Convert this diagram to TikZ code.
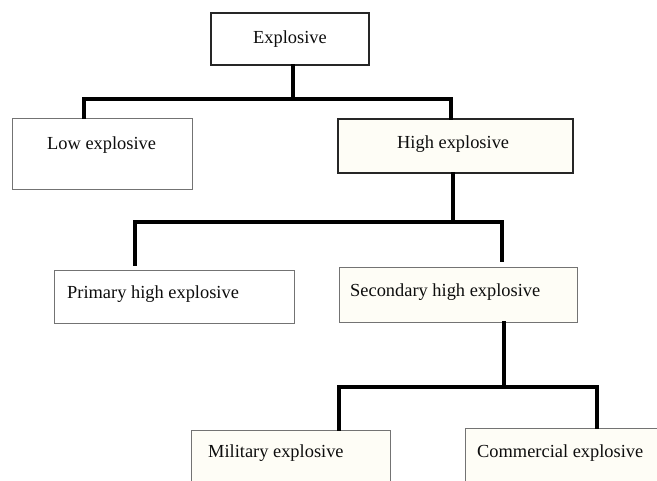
\documentclass[tikz,border=0pt]{standalone}
\usepackage{fontspec}
\setmainfont{Liberation Serif}
\begin{document}
\begin{tikzpicture}[x=1pt,y=-1pt,
  boxthin/.style={draw=black!55,line width=0.9pt,fill=white,rectangle,inner sep=0pt},
  boxdark/.style={draw=black!85,line width=1.5pt,fill=white,rectangle,inner sep=0pt},
  cream/.style={fill={rgb,255:red,254;green,253;blue,246}},
  lbl/.style={anchor=base west,inner sep=0pt,text=black!95,font=\fontsize{18.4}{22}\selectfont},
  conn/.style={line width=3.2pt,draw=black,line cap=rect,line join=miter}]
\clip (0,0) rectangle (657,481);
\fill[white] (0,0) rectangle (657,481);
% boxes
\node[boxdark,minimum width=158pt,minimum height=52pt] (exp) at (290,39) {};
\node[boxthin,minimum width=180pt,minimum height=71pt] (low) at (102,153.5) {};
\node[boxdark,cream,minimum width=235pt,minimum height=54pt] (high) at (455.5,146) {};
\node[boxthin,minimum width=240pt,minimum height=53pt] (prim) at (174,296.5) {};
\node[boxthin,cream,minimum width=238pt,minimum height=55pt] (sec) at (458,294.5) {};
\node[boxthin,cream,minimum width=199pt,minimum height=100pt] (mil) at (290.5,480) {};
\node[boxthin,cream,minimum width=220pt,minimum height=104pt] (com) at (575,480) {};
% labels
\node[lbl] (expt) at (253,44) {Explosive};
\node[lbl] (lowt) at (47,150) {Low explosive};
\node[lbl] (hight) at (397,149) {High explosive};
\node[lbl] (primt) at (67,299) {Primary high explosive};
\node[lbl] (sect) at (350,297) {Secondary high explosive};
\node[lbl] (milt) at (208,458) {Military explosive};
\node[lbl] (comt) at (477,458) {Commercial explosive};
% level 1
\coordinate (j1l) at (84,99);
\coordinate (j1r) at (451,99);
\coordinate (j1m) at (293,99);
\draw[conn] (j1m |- exp.south) -- (j1m);
\draw[conn] (j1l |- low.north) -- (j1l) -- (j1r) -- (j1r |- high.north);
% level 2
\coordinate (j2l) at (135,222);
\coordinate (j2r) at (502,222);
\coordinate (j2m) at (453,222);
\draw[conn] (j2m |- high.south) -- (j2m);
\draw[conn] ([yshift=5pt]j2l |- prim.north) -- (j2l) -- (j2r) -- ([yshift=6pt]j2r |- sec.north);
% level 3
\coordinate (j3l) at (339,387);
\coordinate (j3r) at (597,387);
\coordinate (j3m) at (504,387);
\draw[conn] (j3m |- sec.south) -- (j3m);
\draw[conn] (j3l |- mil.north) -- (j3l) -- (j3r) -- (j3r |- com.north);
\end{tikzpicture}
\end{document}
